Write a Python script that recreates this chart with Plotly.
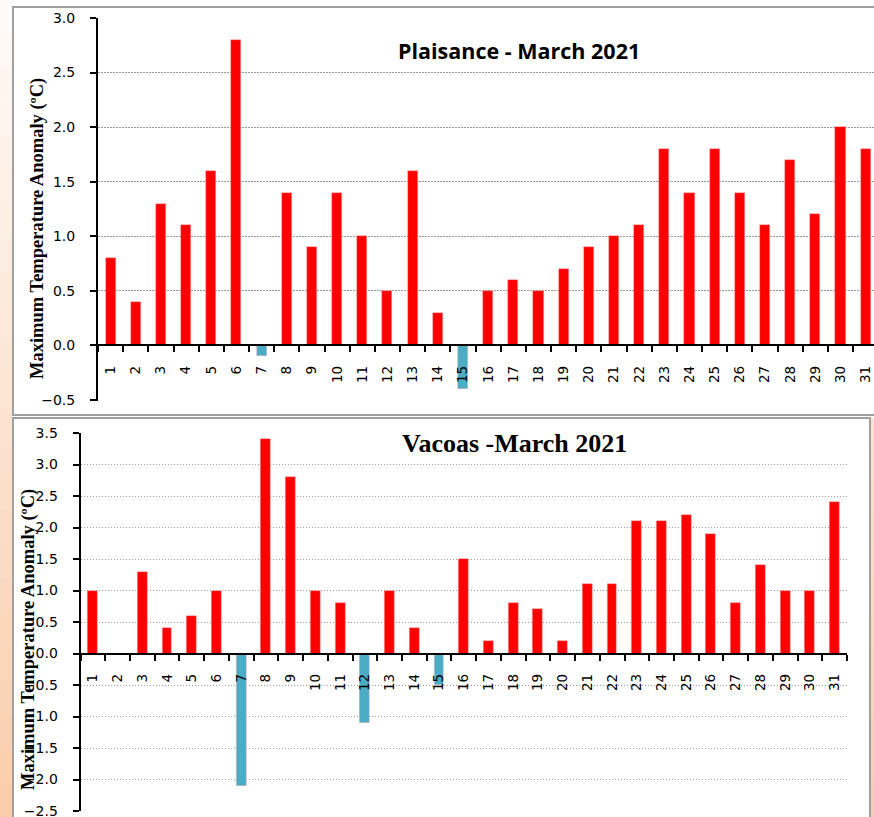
import plotly.graph_objects as go

# ---------------- data ----------------
days = [str(d) for d in range(1, 32)]

plaisance = [0.8, 0.4, 1.3, 1.1, 1.6, 2.8, -0.1, 1.4, 0.9, 1.4,
             1.0, 0.5, 1.6, 0.3, -0.4, 0.5, 0.6, 0.5, 0.7, 0.9,
             1.0, 1.1, 1.8, 1.4, 1.8, 1.4, 1.1, 1.7, 1.2, 2.0, 1.8]

vacoas = [1.0, 0.0, 1.3, 0.4, 0.6, 1.0, -2.1, 3.4, 2.8, 1.0,
          0.8, -1.1, 1.0, 0.4, -0.5, 1.5, 0.2, 0.8, 0.7, 0.2,
          1.1, 1.1, 2.1, 2.1, 2.2, 1.9, 0.8, 1.4, 1.0, 1.0, 2.4]

title_top = "Plaisance - March 2021"
title_bottom = "Vacoas -March 2021"
ytitle = "Maximum Temperature Anomaly (ºC)"

# ---------------- layout helpers ----------------
W, H = 874, 817
def px(x):
    return x / W
def py(y):
    return 1 - y / H

POS = "#FF0000"
NEG = "#4BACC6"

def colors(vals):
    return [POS if v >= 0 else NEG for v in vals]

fig = go.Figure()
fig.add_trace(go.Bar(x=days, y=plaisance,
                     marker=dict(color=colors(plaisance), line=dict(width=0.6, color="rgba(255,170,170,0.7)")),
                     width=0.4, xaxis="x", yaxis="y", showlegend=False))
fig.add_trace(go.Bar(x=days, y=vacoas,
                     marker=dict(color=colors(vacoas), line=dict(width=0.6, color="rgba(255,170,170,0.7)")),
                     width=0.4, xaxis="x2", yaxis="y2", showlegend=False))

tickfont = dict(family="DejaVu Sans", size=14, color="#000000")
xtickfont = dict(family="DejaVu Sans", size=13.5, color="#000000")
grid = dict(showgrid=True, gridcolor="#9a9a9a", gridwidth=1.3, griddash="1.5px,1.5px")

# pixel geometry
ppu_top = (400 - 18) / 3.5
top_zero = 18 + 3.0 * ppu_top
ppu_bot = (811 - 433) / 6.0
bot_zero = 433 + 3.5 * ppu_bot
ext = 0.006   # small extension so that the lowest gridline is kept

common_x = dict(type="category", showline=True, linecolor="#000000", linewidth=2,
                ticks="outside", tickson="boundaries", ticklen=6, tickwidth=2,
                tickcolor="#000000", tickangle=-90, tickfont=xtickfont,
                showgrid=False, zeroline=False, anchor="free", fixedrange=True,
                ticklabelstandoff=14, automargin=False)
common_y = dict(showline=True, linecolor="#000000", linewidth=2, ticks="outside",
                ticklen=6, tickwidth=2, tickcolor="#000000", tickfont=tickfont,
                dtick=0.5, tick0=0, tickformat=".1f", zeroline=False, ticklabelstandoff=12,
                ticklabeloverflow="allow",
                automargin=False, fixedrange=True, **grid)

fig.update_layout(
    width=W, height=H, autosize=False,
    margin=dict(l=0, r=0, t=0, b=0, pad=0, autoexpand=False),
    paper_bgcolor="#ffffff", plot_bgcolor="rgba(0,0,0,0)",
    bargap=0,
    xaxis=dict(domain=[px(98), 1.0], range=[-0.5, 30.33], position=py(top_zero), **common_x),
    yaxis=dict(domain=[py(400 + ext * ppu_top), py(18)], range=[-0.5 - ext, 3.0], anchor="x", **common_y),
    xaxis2=dict(domain=[px(80.6), px(847)], range=[-0.5, 30.5], position=py(bot_zero), **common_x),
    yaxis2=dict(domain=[py(811 + ext * ppu_bot), py(433)], range=[-2.5 - ext, 3.5], anchor="x2", **common_y),
)

# ---------------- background / panels ----------------
shapes = []
n = 24
c0 = (253, 250, 247)
c1 = (250, 206, 172)
for i in range(n):
    t = i / (n - 1)
    col = "rgb(%d,%d,%d)" % tuple(round(a + (b - a) * t) for a, b in zip(c0, c1))
    ya, yb = i * H / n, (i + 1) * H / n
    shapes.append(dict(type="rect", xref="paper", yref="paper", x0=px(0), x1=px(13),
                       y0=py(ya), y1=py(yb + 1), fillcolor=col, line=dict(width=0), layer="below"))
    if yb > 418:
        shapes.append(dict(type="rect", xref="paper", yref="paper", x0=px(870), x1=px(874),
                           y0=py(max(ya, 418)), y1=py(yb + 1), fillcolor=col, line=dict(width=0), layer="below"))
# panels
shapes.append(dict(type="rect", xref="paper", yref="paper", x0=px(13), x1=px(890),
                   y0=py(415), y1=py(7), fillcolor="#ffffff", line=dict(color="#a0a0a0", width=2), layer="below"))
shapes.append(dict(type="rect", xref="paper", yref="paper", x0=px(13), x1=px(870),
                   y0=py(840), y1=py(418), fillcolor="#ffffff", line=dict(color="#a0a0a0", width=2), layer="below"))
fig.update_layout(shapes=shapes)

ann = [
    dict(text="<b>" + title_top + "</b>", x=px(519), y=py(50), xref="paper", yref="paper",
         xanchor="center", yanchor="middle",
         showarrow=False, font=dict(family="Open Sans", size=21.5, color="#000000")),
    dict(text="<b>" + title_bottom + "</b>", x=px(514), y=py(443), xref="paper", yref="paper",
         xanchor="center", yanchor="middle",
         showarrow=False, font=dict(family="Liberation Serif", size=26, color="#000000")),
    dict(text="<b>" + ytitle + "</b>", x=px(37), y=py(229), xref="paper", yref="paper",
         xanchor="center", yanchor="middle",
         textangle=-90, showarrow=False, font=dict(family="Liberation Serif", size=18.5, color="#000000")),
    dict(text="<b>" + ytitle + "</b>", x=px(28), y=py(640), xref="paper", yref="paper",
         xanchor="center", yanchor="middle",
         textangle=-90, showarrow=False, font=dict(family="Liberation Serif", size=18.5, color="#000000")),
]
fig.update_layout(annotations=ann)

fig.write_html("out.html", config={"displayModeBar": False},
               post_script="document.body.style.margin='0';document.body.style.overflow='hidden';")
